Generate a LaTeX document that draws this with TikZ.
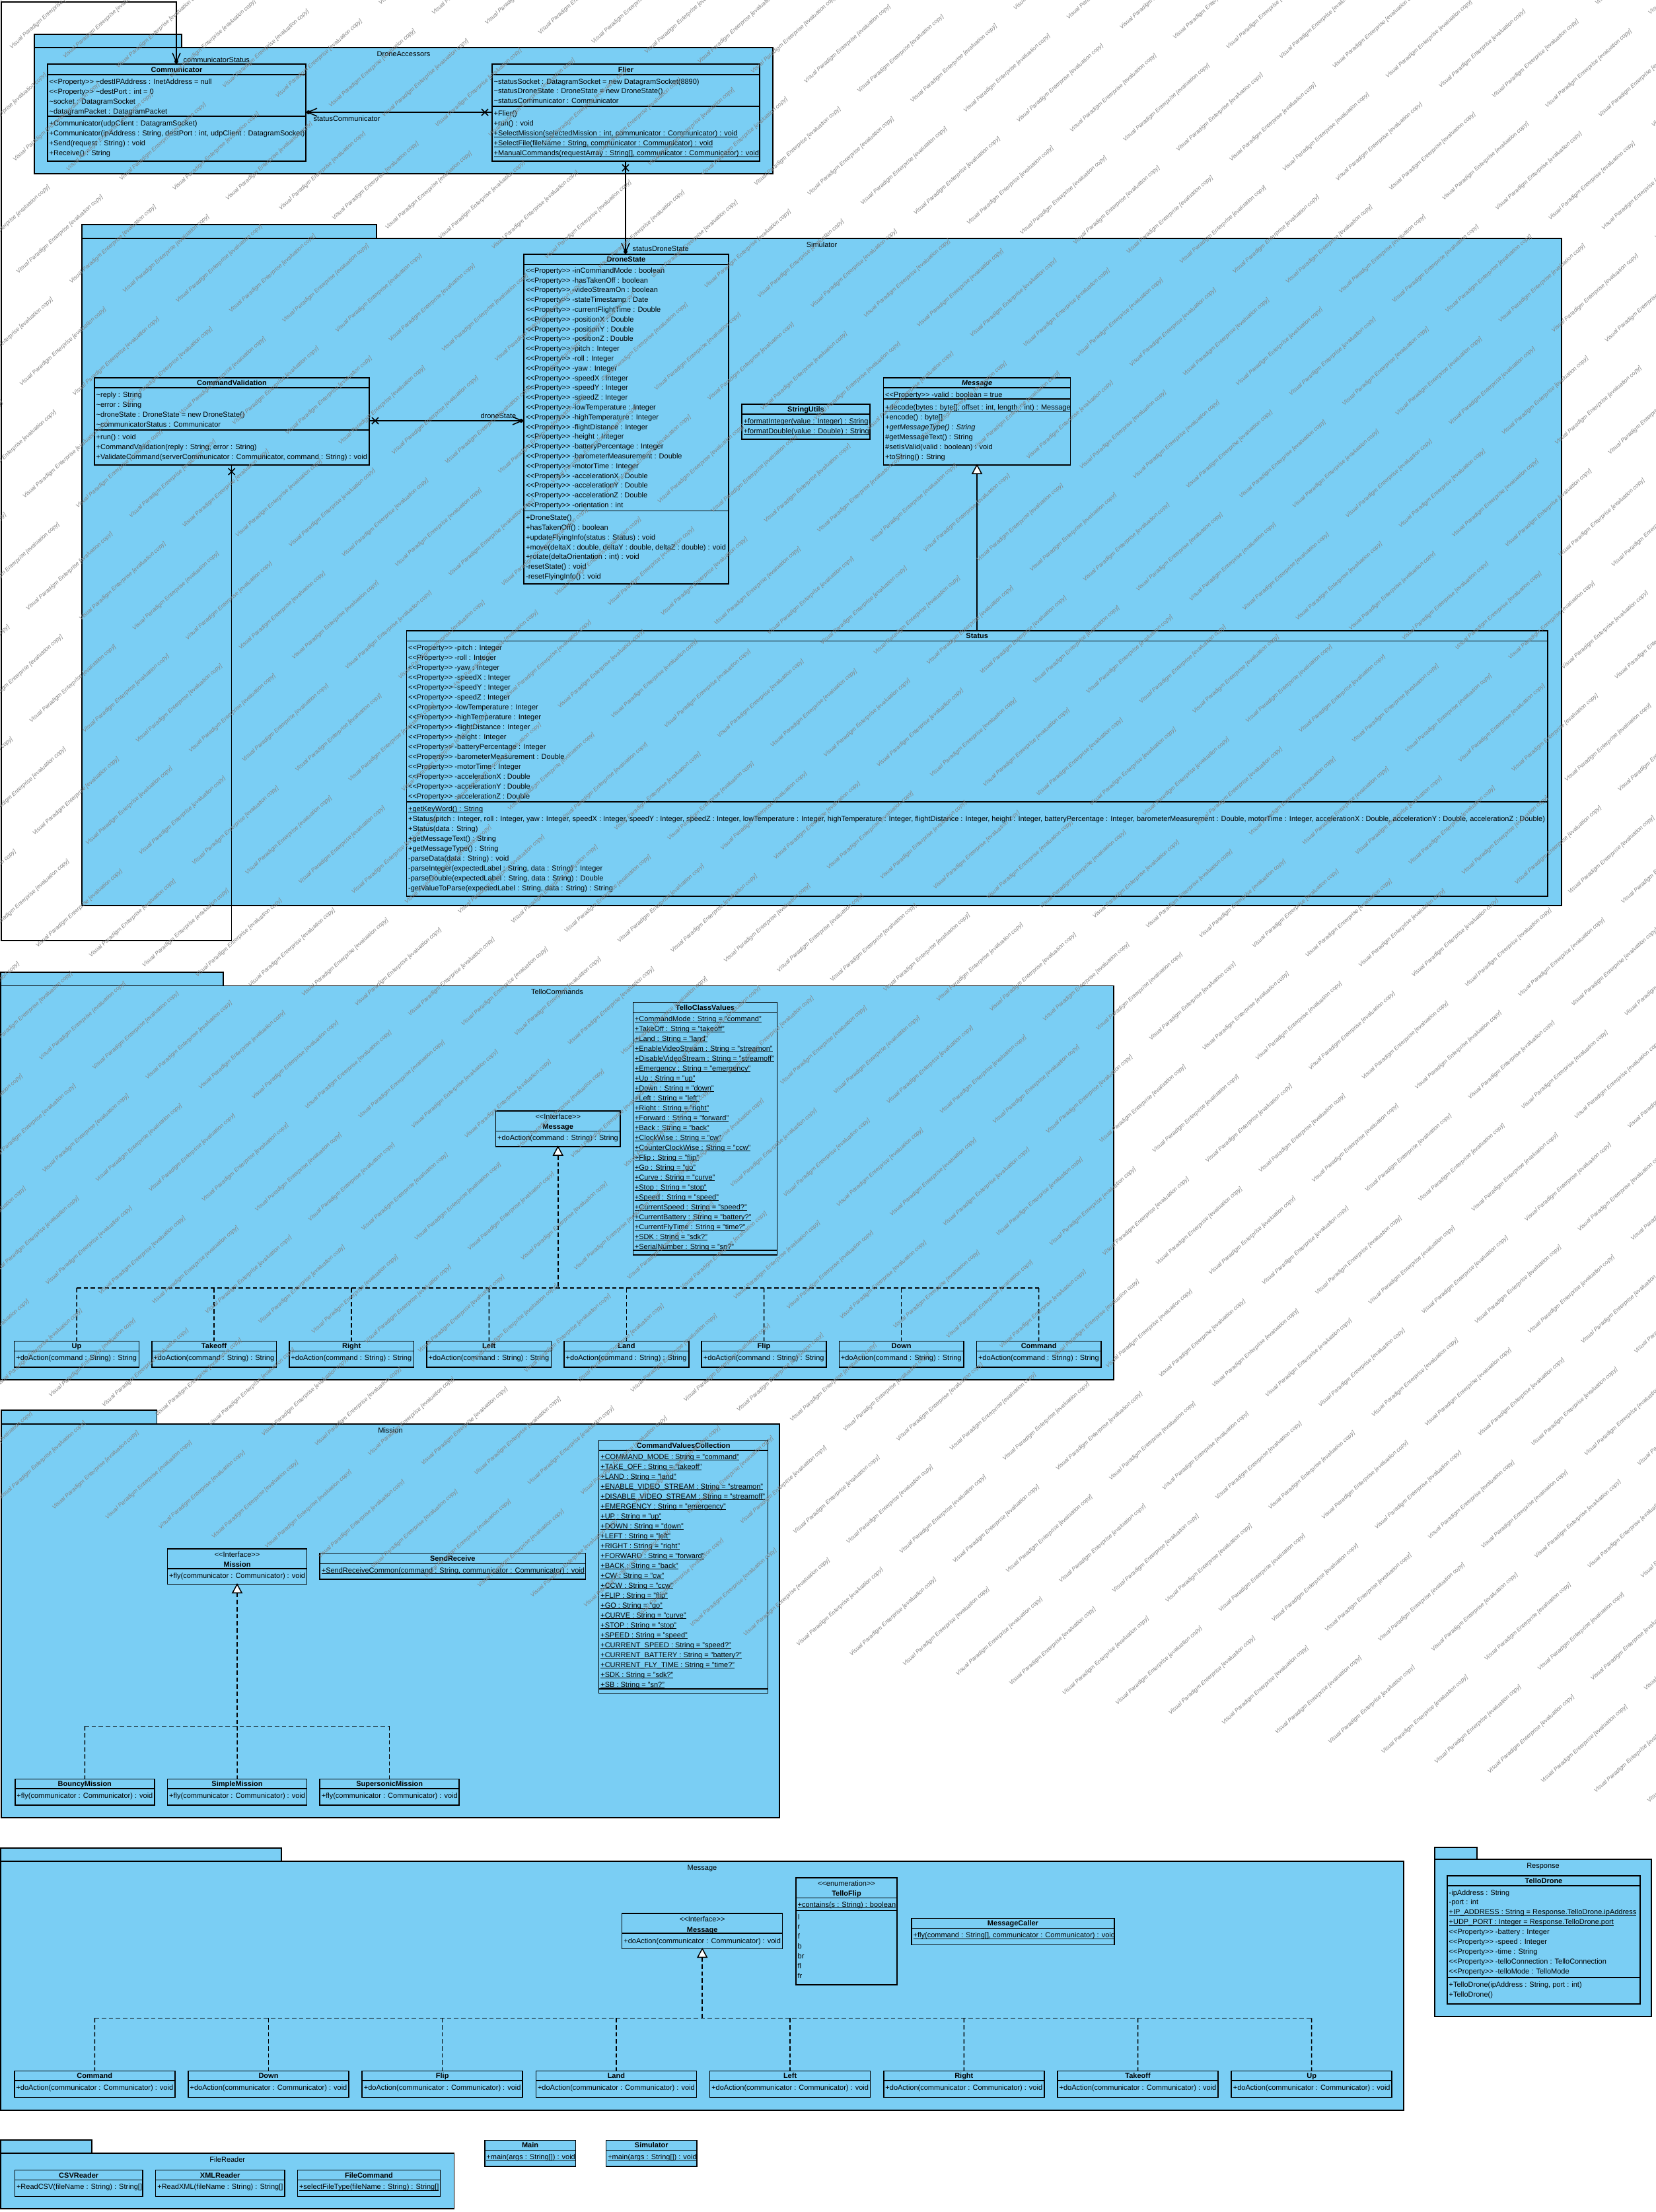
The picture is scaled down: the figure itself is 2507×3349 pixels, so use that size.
\documentclass[tikz,border=0pt]{standalone}
\usepackage{fontspec}
\setmainfont{Liberation Sans}
\usetikzlibrary{fit}
\definecolor{vpblue}{RGB}{122,206,244}
\definecolor{wmgray}{RGB}{130,130,130}
\newcommand{\tl}{\textasciitilde}
\newcommand{\sto}{<{}<}
\newcommand{\stc}{>{}>}
\newcommand{\pr}{\sto Property\stc\ }
\newsavebox{\ulbox}
\newcommand{\ul}[1]{\sbox{\ulbox}{#1}\rlap{\rule[-0.55pt]{\wd\ulbox}{0.22pt}}\usebox{\ulbox}}
\newcommand{\rows}[4]{\foreach \rtext [count=\ri from 0] in {#4} {\node[txt] at (#1,{#2+\ri*#3+4}) {\rtext};}}
\newcommand{\cls}[7]{%
  \node[box, fit={(#2,#3) (#4,#5)}] (#1) {};
  \draw[ln] (#2,#6) -- (#4,#6);
  \node[ttl] at ({(#2+#4)/2},{(#3+#6)/2+4}) {#7};}
\newcommand{\hl}[3]{\draw[ln] (#1,#3) -- (#2,#3);}
\newcommand{\pkg}[8]{%
  \draw[box] (#2,#3) rectangle (#4,#5);
  \node[box, fit={(#2,#5) (#6,#7)}] (#1) {};
  \node[lbl] at ({(#2+#6)/2},{#5+13}) {#8};}
\newcommand{\navend}[3]{\begin{scope}[shift={(#1,#2)}, rotate=#3]
  \fill (-4,0) circle[radius=3];
  \draw[ln] (-17,-6) -- (-3,0) -- (-17,6);
\end{scope}}
\newcommand{\xmark}[2]{\draw[ln] (#1-5,#2-5) -- (#1+5,#2+5) (#1-5,#2+5) -- (#1+5,#2-5);}
\newcommand{\gtri}[2]{\draw[ln, fill=white] (#1,#2) -- (#1-7,#2+13) -- (#1+7,#2+13) -- cycle;}
\tikzset{
  ln/.style={line width=0.45pt},
  box/.style={draw, fill=vpblue, line width=0.45pt, inner sep=0pt, outer sep=0pt},
  txt/.style={anchor=base west, inner sep=0pt, font=\fontsize{3.3}{4}\selectfont},
  ttl/.style={anchor=base, inner sep=0pt, font=\fontsize{3.3}{4}\selectfont\bfseries},
  lbl/.style={anchor=base, inner sep=0pt, font=\fontsize{3.3}{4}\selectfont},
  lblw/.style={anchor=base west, inner sep=0pt, font=\fontsize{3.3}{4}\selectfont},
  dsh/.style={line width=0.45pt, dash pattern=on 2pt off 1.2pt},
  wm/.style={inner sep=0pt, rotate=42, text=wmgray, font=\fontsize{2.6}{3}\selectfont\itshape},
}
\begin{document}
\begin{tikzpicture}[x=0.3pt,y=-0.3pt]
\useasboundingbox (0,0) rectangle (2507,3349);
\fill[white] (0,0) rectangle (2507,3349);

%% ================= DroneAccessors =================
\pkg{pDA}{52}{52}{275}{72}{1170}{263}{DroneAccessors}
\cls{comm}{72}{97}{463}{244}{113}{Communicator}
\hl{72}{463}{176}
\rows{74}{123}{15}{{\pr\tl destIPAddress : InetAddress = null},{\pr\tl destPort : int = 0},{\tl socket : DatagramSocket},{\tl datagramPacket : DatagramPacket}}
\rows{74}{186}{15}{{+Communicator(udpClient : DatagramSocket)},{+Communicator(ipAddress : String, destPort : int, udpClient : DatagramSocket)},{+Send(request : String) : void},{+Receive() : String}}

\cls{flier}{745}{97}{1150}{244}{113}{Flier}
\hl{745}{1150}{161}
\rows{747}{123}{14.7}{{\tl statusSocket : DatagramSocket = new DatagramSocket(8890)},{\tl statusDroneState : DroneState = new DroneState()},{\tl statusCommunicator : Communicator}}
\rows{747}{171.5}{15}{{+Flier()},{+run() : void},{\ul{+SelectMission(selectedMission : int, communicator : Communicator) : void}},{\ul{+SelectFile(fileName : String, communicator : Communicator) : void}},{\ul{+ManualCommands(requestArray : String[], communicator : Communicator) : void}}}

%% ================= Simulator =================
\pkg{pSim}{124}{340}{570}{361}{2364}{1371}{Simulator}

\cls{dstate}{793}{385}{1103}{884}{400.7}{DroneState}
\hl{793}{1103}{773.3}
\rows{795.5}{409.3}{14.8}{{\pr-inCommandMode : boolean},{\pr-hasTakenOff : boolean},{\pr-videoStreamOn : boolean},{\pr-stateTimestamp : Date},{\pr-currentFlightTime : Double},{\pr-positionX : Double},{\pr-positionY : Double},{\pr-positionZ : Double},{\pr-pitch : Integer},{\pr-roll : Integer},{\pr-yaw : Integer},{\pr-speedX : Integer},{\pr-speedY : Integer},{\pr-speedZ : Integer},{\pr-lowTemperature : Integer},{\pr-highTemperature : Integer},{\pr-flightDistance : Integer},{\pr-height : Integer},{\pr-batteryPercentage : Integer},{\pr-barometerMeasurement : Double},{\pr-motorTime : Integer},{\pr-accelerationX : Double},{\pr-accelerationY : Double},{\pr-accelerationZ : Double},{\pr-orientation : int}}
\rows{795.5}{783.7}{14.8}{{+DroneState()},{+hasTakenOff() : boolean},{+updateFlyingInfo(status : Status) : void},{+move(deltaX : double, deltaY : double, deltaZ : double) : void},{+rotate(deltaOrientation : int) : void},{-resetState() : void},{-resetFlyingInfo() : void}}

\cls{cval}{143}{572}{559}{704}{587}{CommandValidation}
\hl{143}{559}{651}
\rows{145}{597.7}{15}{{\tl reply : String},{\tl error : String},{\tl droneState : DroneState = new DroneState()},{\tl communicatorStatus : Communicator}}
\rows{145}{661.7}{15}{{+run() : void},{+CommandValidation(reply : String, error : String)},{+ValidateCommand(serverCommunicator : Communicator, command : String) : void}}

\cls{sutils}{1123}{612}{1317}{665}{627}{StringUtils}
\rows{1125}{637}{15}{{\ul{+formatInteger(value : Integer) : String}},{\ul{+formatDouble(value : Double) : String}}}

\cls{smsg}{1337.5}{572}{1620.6}{704}{587}{\itshape Message}
\hl{1337.5}{1620.6}{604}
\rows{1339.5}{597.7}{15}{{\pr-valid : boolean = true}}
\rows{1339.5}{616.7}{15}{{\ul{+decode(bytes : byte[], offset : int, length : int) : Message}},{+encode() : byte[]},{\itshape +getMessageType() : String},{\#getMessageText() : String},{\#setIsValid(valid : boolean) : void},{+toString() : String}}

\cls{status}{615.5}{955}{2343}{1357}{970.7}{Status}
\hl{615.5}{2343}{1214}
\rows{617.5}{980.7}{15}{{\pr-pitch : Integer},{\pr-roll : Integer},{\pr-yaw : Integer},{\pr-speedX : Integer},{\pr-speedY : Integer},{\pr-speedZ : Integer},{\pr-lowTemperature : Integer},{\pr-highTemperature : Integer},{\pr-flightDistance : Integer},{\pr-height : Integer},{\pr-batteryPercentage : Integer},{\pr-barometerMeasurement : Double},{\pr-motorTime : Integer},{\pr-accelerationX : Double},{\pr-accelerationY : Double},{\pr-accelerationZ : Double}}
\rows{617.5}{1224}{15}{{\ul{+getKeyWord() : String}},{+Status(pitch : Integer, roll : Integer, yaw : Integer, speedX : Integer, speedY : Integer, speedZ : Integer, lowTemperature : Integer, highTemperature : Integer, flightDistance : Integer, height : Integer, batteryPercentage : Integer, barometerMeasurement : Double, motorTime : Integer, accelerationX : Double, accelerationY : Double, accelerationZ : Double)},{+Status(data : String)},{+getMessageText() : String},{+getMessageType() : String},{-parseData(data : String) : void},{-parseInteger(expectedLabel : String, data : String) : Integer},{-parseDouble(expectedLabel : String, data : String) : Double},{-getValueToParse(expectedLabel : String, data : String) : String}}

%% connectors (top part)
\draw[ln] (comm.east |- 0,170) -- (flier.west |- 0,170);
\navend{463}{170}{180}
\xmark{734}{170}
\node[lblw] at (474,183) {statusCommunicator};

\draw[ln] (flier.south -| 947,0) -- (dstate.north -| 947,0);
\xmark{947}{254}
\navend{947}{385}{-90}
\node[lblw] at (957,380.5) {statusDroneState};

\draw[ln] (cval.east |- 0,637) -- (dstate.west |- 0,637);
\xmark{568}{637}
\navend{793}{637}{0}
\node[anchor=base east, inner sep=0pt, font=\fontsize{3.3}{4}\selectfont] at (782,633) {droneState};

\draw[ln] (cval.south -| 350.7,0) -- (350.7,1424) -- (2,1424) -- (2,3) -- (267,3) -- (comm.north -| 267,0);
\xmark{350.7}{714}
\navend{267}{97}{-90}
\node[lblw] at (277,94) {communicatorStatus};

\draw[ln] (status.north -| 1479,0) -- (1479,717);
\gtri{1479}{704}

%% ================= TelloCommands =================
\pkg{pTC}{1}{1472}{338}{1492.5}{1686}{2089}{TelloCommands}
\cls{tcmsg}{750.5}{1682}{939}{1736}{1712.4}{}
\node[lbl] at (844.75,1694) {\sto Interface\stc};
\node[ttl] at (844.75,1709.7) {Message};
\rows{752.5}{1722.3}{15}{{+doAction(command : String) : String}}

\cls{tcv}{958.3}{1517.3}{1176.7}{1900}{1532.7}{TelloClassValues}
\hl{958.3}{1176.7}{1893}
\rows{960.3}{1542.3}{15}{{\ul{+CommandMode : String = "command"}},{\ul{+TakeOff : String = "takeoff"}},{\ul{+Land : String = "land"}},{\ul{+EnableVideoStream : String = "streamon"}},{\ul{+DisableVideoStream : String = "streamoff"}},{\ul{+Emergency : String = "emergency"}},{\ul{+Up : String = "up"}},{\ul{+Down : String = "down"}},{\ul{+Left : String = "left"}},{\ul{+Right : String = "right"}},{\ul{+Forward : String = "forward"}},{\ul{+Back : String = "back"}},{\ul{+ClockWise : String = "cw"}},{\ul{+CounterClockWise : String = "ccw"}},{\ul{+Flip : String = "flip"}},{\ul{+Go : String = "go"}},{\ul{+Curve : String = "curve"}},{\ul{+Stop : String = "stop"}},{\ul{+Speed : String = "speed"}},{\ul{+CurrentSpeed : String = "speed?"}},{\ul{+CurrentBattery : String = "battery?"}},{\ul{+CurrentFlyTime : String = "time?"}},{\ul{+SDK : String = "sdk?"}},{\ul{+SerialNumber : String = "sn?"}}}

\gtri{844.75}{1736}
\draw[dsh] (844.75,1749) -- (844.75,1950);
\draw[dsh] (116,1950) -- (1572.7,1950);
\foreach \nm [count=\k from 0] in {Up,Takeoff,Right,Left,Land,Flip,Down,Command} {
  \pgfmathsetmacro{\xl}{21.7+\k*208.09}
  \pgfmathsetmacro{\xr}{\xl+188.7}
  \pgfmathsetmacro{\xc}{\xl+94.35}
  \cls{tc\nm}{\xl}{2030.3}{\xr}{2070}{2045.3}{\nm}
  \node[txt] at (\xl+2,2059.2) {+doAction(command : String) : String};
  \draw[dsh] (\xc,1950) -- (tc\nm.north);
}

%% ================= Mission =================
\pkg{pMis}{2}{2135}{237.5}{2156}{1180}{2752}{Mission}
\cls{mis}{253.5}{2345}{464.5}{2398.6}{2375}{}
\node[lbl] at (359,2357.5) {\sto Interface\stc};
\node[ttl] at (359,2372.5) {Mission};
\rows{255.5}{2385.6}{15}{{+fly(communicator : Communicator) : void}}

\cls{sendr}{484.2}{2351.5}{886.5}{2391}{2367.4}{SendReceive}
\rows{486.2}{2377}{15}{{\ul{+SendReceiveCommon(command : String, communicator : Communicator) : void}}}

\cls{cvc}{906.7}{2180.7}{1162.7}{2563.3}{2196}{CommandValuesCollection}
\hl{906.7}{1162.7}{2557}
\rows{908.7}{2205}{15}{{\ul{+COMMAND\_MODE : String = "command"}},{\ul{+TAKE\_OFF : String = "takeoff"}},{\ul{+LAND : String = "land"}},{\ul{+ENABLE\_VIDEO\_STREAM : String = "streamon"}},{\ul{+DISABLE\_VIDEO\_STREAM : String = "streamoff"}},{\ul{+EMERGENCY : String = "emergency"}},{\ul{+UP : String = "up"}},{\ul{+DOWN : String = "down"}},{\ul{+LEFT : String = "left"}},{\ul{+RIGHT : String = "right"}},{\ul{+FORWARD : String = "forward"}},{\ul{+BACK : String = "back"}},{\ul{+CW : String = "cw"}},{\ul{+CCW : String = "ccw"}},{\ul{+FLIP : String = "flip"}},{\ul{+GO : String = "go"}},{\ul{+CURVE : String = "curve"}},{\ul{+STOP : String = "stop"}},{\ul{+SPEED : String = "speed"}},{\ul{+CURRENT\_SPEED : String = "speed?"}},{\ul{+CURRENT\_BATTERY : String = "battery?"}},{\ul{+CURRENT\_FLY\_TIME : String = "time?"}},{\ul{+SDK : String = "sdk?"}},{\ul{+SB : String = "sn?"}}}

\gtri{359}{2398.6}
\draw[dsh] (359,2411.6) -- (359,2613.3);
\draw[dsh] (127.9,2613.3) -- (589.7,2613.3);
\foreach \nm/\xl in {BouncyMission/22.8,SimpleMission/253.5,SupersonicMission/484.2} {
  \pgfmathsetmacro{\xr}{\xl+211}
  \pgfmathsetmacro{\xc}{\xl+105.5}
  \cls{m\nm}{\xl}{2693.6}{\xr}{2733.1}{2708.2}{\nm}
  \node[txt] at (\xl+2,2722.5) {+fly(communicator : Communicator) : void};
  \draw[dsh] (\xc,2613.3) -- (m\nm.north);
}

%% ================= Message =================
\pkg{pMsg}{1}{2798}{426}{2818}{2125}{3195}{Message}
\cls{imsg}{941.7}{2897}{1184.7}{2950.3}{2927}{}
\node[lbl] at (1063.2,2909.7) {\sto Interface\stc};
\node[ttl] at (1063.2,2925) {Message};
\rows{943.7}{2938}{15}{{+doAction(communicator : Communicator) : void}}

\cls{tflip}{1205}{2843}{1358}{3005}{2873.3}{}
\node[lbl] at (1281.5,2855) {\sto enumeration\stc};
\node[ttl] at (1281.5,2870.3) {TelloFlip};
\hl{1205}{1358}{2892.3}
\rows{1207}{2883.3}{15}{{\ul{+contains(s : String) : boolean}}}
\rows{1207}{2902}{14.9}{l,r,f,b,br,fl,fr}

\cls{mcaller}{1380}{2904.3}{1687}{2944.3}{2919.3}{MessageCaller}
\rows{1382}{2929.7}{15}{{\ul{+fly(command : String[], communicator : Communicator) : void}}}

\gtri{1063.2}{2950.3}
\draw[dsh] (1063.2,2963.3) -- (1063.2,3055.3);
\draw[dsh] (143.3,3055.3) -- (1985.7,3055.3);
\foreach \nm [count=\k from 0] in {Command,Down,Flip,Land,Left,Right,Takeoff,Up} {
  \pgfmathsetmacro{\xl}{21.8+\k*263.2}
  \pgfmathsetmacro{\xr}{\xl+243}
  \pgfmathsetmacro{\xc}{\xl+121.5}
  \cls{mg\nm}{\xl}{3135.3}{\xr}{3175.3}{3150}{\nm}
  \node[txt] at (\xl+2,3164.3) {+doAction(communicator : Communicator) : void};
  \draw[dsh] (\xc,3055.3) -- (mg\nm.north);
}

%% ================= Response =================
\pkg{pResp}{2172}{2797}{2236}{2815}{2500}{3053}{Response}
\cls{tdrone}{2191}{2840}{2483}{3034}{2855}{TelloDrone}
\hl{2191}{2483}{2994}
\rows{2193}{2865}{14.9}{{-ipAddress : String},{-port : int},{\ul{+IP\_ADDRESS : String = Response.TelloDrone.ipAddress}},{\ul{+UDP\_PORT : Integer = Response.TelloDrone.port}},{\pr-battery : Integer},{\pr-speed : Integer},{\pr-time : String},{\pr-telloConnection : TelloConnection},{\pr-telloMode : TelloMode}}
\rows{2193}{3004}{15}{{+TelloDrone(ipAddress : String, port : int)},{+TelloDrone()}}

%% ================= FileReader =================
\pkg{pFR}{1}{3240}{139}{3260}{687.5}{3344}{FileReader}
\cls{csv}{22.4}{3285.7}{216}{3325.3}{3300.7}{CSVReader}
\rows{24.4}{3310.7}{15}{{+ReadCSV(fileName : String) : String[]}}
\cls{xml}{235.7}{3285.7}{430.8}{3325.3}{3300.7}{XMLReader}
\rows{237.7}{3310.7}{15}{{+ReadXML(fileName : String) : String[]}}
\cls{fcmd}{450.4}{3285.7}{666.5}{3325.3}{3300.7}{FileCommand}
\rows{452.4}{3310.7}{15}{{\ul{+selectFileType(fileName : String) : String[]}}}

\cls{mainc}{733.8}{3240.3}{871.3}{3280}{3255.3}{Main}
\rows{735.8}{3265.3}{15}{{\ul{+main(args : String[]) : void}}}
\cls{simc}{917.6}{3240.3}{1055}{3280}{3255.3}{Simulator}
\rows{919.6}{3265.3}{15}{{\ul{+main(args : String[]) : void}}}

%% ================= watermark =================
\begin{scope}
\clip (0,0) rectangle (2507,3349);
\foreach \m in {0,...,65} {
  \foreach \k in {-13,...,10} {
    \node[wm] at ({\m*43.49+\k*156.05+\m*37},{\m*48.30-\k*140.5-\m*33.5}) {Visual Paradigm Enterprise [evaluation copy]};
  }
}
\end{scope}
\end{tikzpicture}
\end{document}
